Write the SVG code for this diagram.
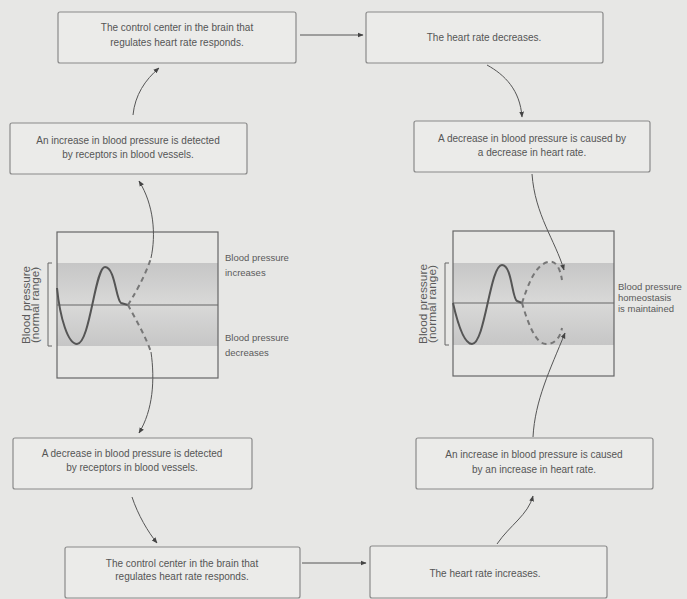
<svg xmlns="http://www.w3.org/2000/svg" width="687" height="599" viewBox="0 0 687 599">
<style>
.box{fill:#ebebe9;stroke:#8a8a8a;stroke-width:1.2}
.t{font-family:"Liberation Sans",Arial,sans-serif;font-size:10px;fill:#555;text-anchor:middle}
.s{font-family:"Liberation Sans",Arial,sans-serif;font-size:9.5px;fill:#5a5a5a}
.v{font-family:"Liberation Sans",Arial,sans-serif;font-size:10px;fill:#5a5a5a;text-anchor:middle}
.c{fill:none;stroke:#555;stroke-width:1}
.d{fill:none;stroke:#777;stroke-width:2;stroke-dasharray:5 4}
.w{fill:none;stroke:#555;stroke-width:2}
.frame{fill:none;stroke:#666;stroke-width:1.2}
</style>
<defs>
<marker id="ah" viewBox="0 0 10 10" refX="9" refY="5" markerWidth="6" markerHeight="6" orient="auto-start-reverse">
<path d="M0,1 L10,5 L0,9 Z" fill="#444"/>
</marker>
<linearGradient id="gUp" x1="0" y1="0" x2="0" y2="1">
<stop offset="0" stop-color="#c6c6c6"/>
<stop offset="1" stop-color="#d9d9d8"/>
</linearGradient>
<linearGradient id="gDn" x1="0" y1="0" x2="0" y2="1">
<stop offset="0" stop-color="#d9d9d8"/>
<stop offset="1" stop-color="#c6c6c6"/>
</linearGradient>
</defs>
<rect x="0" y="0" width="687" height="599" fill="#e7e7e5"/>

<g id="node-control-top">
<rect class="box" x="58" y="12" width="238" height="51" rx="2"/>
<text class="t" x="177" y="31">The control center in the brain that</text>
<text class="t" x="177" y="46">regulates heart rate responds.</text>
</g>
<g id="node-rate-decreases">
<rect class="box" x="366" y="12" width="237" height="51" rx="2"/>
<text class="t" x="484" y="41">The heart rate decreases.</text>
</g>
<g id="node-increase-detected">
<rect class="box" x="10" y="123" width="237" height="51" rx="2"/>
<text class="t" x="128" y="143.5">An increase in blood pressure is detected</text>
<text class="t" x="128" y="158">by receptors in blood vessels.</text>
</g>
<g id="node-decrease-caused">
<rect class="box" x="414" y="121" width="236" height="51" rx="2"/>
<text class="t" x="532" y="141.5">A decrease in blood pressure is caused by</text>
<text class="t" x="532" y="155.5">a decrease in heart rate.</text>
</g>
<g id="node-decrease-detected">
<rect class="box" x="13" y="438" width="239" height="51" rx="2"/>
<text class="t" x="132" y="456.5">A decrease in blood pressure is detected</text>
<text class="t" x="132" y="471">by receptors in blood vessels.</text>
</g>
<g id="node-increase-caused">
<rect class="box" x="416" y="438" width="237" height="51" rx="2"/>
<text class="t" x="534" y="458">An increase in blood pressure is caused</text>
<text class="t" x="534" y="473">by an increase in heart rate.</text>
</g>
<g id="node-control-bottom">
<rect class="box" x="65" y="547" width="235" height="51" rx="2"/>
<text class="t" x="182" y="566.5">The control center in the brain that</text>
<text class="t" x="182" y="580">regulates heart rate responds.</text>
</g>
<g id="node-rate-increases">
<rect class="box" x="370" y="546" width="237" height="52" rx="2"/>
<text class="t" x="485" y="576.5">The heart rate increases.</text>
</g>

<g id="chart-left">
<rect x="57" y="263" width="161" height="42" fill="url(#gUp)"/>
<rect x="57" y="305" width="161" height="41" fill="url(#gDn)"/>
<rect class="frame" x="57" y="232" width="161" height="146"/>
<line x1="57" y1="305" x2="218" y2="305" stroke="#666" stroke-width="1.2"/>
<path class="w" d="M57,288 C60,318 68,344 77,344 C90,344 95,267 105,267 C115,267 116,300 121,303 L128,305"/>
<path d="M52,263 L48,263 L48,346 L52,346" fill="none" stroke="#666" stroke-width="1"/>
<text class="v" x="30" y="305" textLength="78" lengthAdjust="spacingAndGlyphs" transform="rotate(-90 30 305)">Blood pressure</text>
<text class="v" x="39" y="305" textLength="76" lengthAdjust="spacingAndGlyphs" transform="rotate(-90 39 305)">(normal range)</text>
<text class="s" x="225" y="261">Blood pressure</text>
<text class="s" x="225" y="276">increases</text>
<text class="s" x="225" y="341">Blood pressure</text>
<text class="s" x="225" y="356">decreases</text>
</g>

<g id="chart-right">
<rect x="453" y="263" width="161" height="40" fill="url(#gUp)"/>
<rect x="453" y="303" width="161" height="42" fill="url(#gDn)"/>
<rect class="frame" x="453" y="231" width="161" height="145"/>
<line x1="453" y1="303" x2="614" y2="303" stroke="#666" stroke-width="1.2"/>
<path class="w" d="M453,303 C458,325 464,344 472,344 C485,344 490,265 502,265 C512,265 512,299 517,301 L522,303"/>
<path d="M449,263 L445,263 L445,345 L449,345" fill="none" stroke="#666" stroke-width="1"/>
<text class="v" x="427" y="304" textLength="80" lengthAdjust="spacingAndGlyphs" transform="rotate(-90 427 304)">Blood pressure</text>
<text class="v" x="436" y="304" textLength="78" lengthAdjust="spacingAndGlyphs" transform="rotate(-90 436 304)">(normal range)</text>
<text class="s" x="618" y="290">Blood pressure</text>
<text class="s" x="618" y="301">homeostasis</text>
<text class="s" x="618" y="312">is maintained</text>
</g>

<g id="connectors">
<line class="c" x1="300" y1="35" x2="363" y2="35" marker-end="url(#ah)"/>
<path class="c" d="M133,115 C135,95 145,80 159,68" marker-end="url(#ah)"/>
<path class="c" d="M487,65 C505,75 520,90 522,117" marker-end="url(#ah)"/>
<path class="d" d="M128,305 C133,297 145,277 151,258"/>
<path class="c" d="M151,258 C156,235 154,205 139,181" marker-end="url(#ah)"/>
<path class="d" d="M128,305 C135,318 145,335 151,352"/>
<path class="c" d="M151,352 C155,380 153,410 139,433" marker-end="url(#ah)"/>
<path class="c" d="M132,497 C138,515 148,532 157,543" marker-end="url(#ah)"/>
<line class="c" x1="302" y1="563" x2="366" y2="563" marker-end="url(#ah)"/>
<path class="c" d="M497,544 C510,525 528,515 533,496" marker-end="url(#ah)"/>
<path class="d" d="M522,303 C528,285 535,265 548,262 C556,260 560,268 562,280"/>
<path class="d" d="M522,303 C527,320 535,344 546,344 C555,344 560,338 562,328"/>
<path class="c" d="M532,174 C535,215 555,240 564,270" marker-end="url(#ah)"/>
<path class="c" d="M533,437 C535,400 550,370 565,333" marker-end="url(#ah)"/>
</g>
</svg>
